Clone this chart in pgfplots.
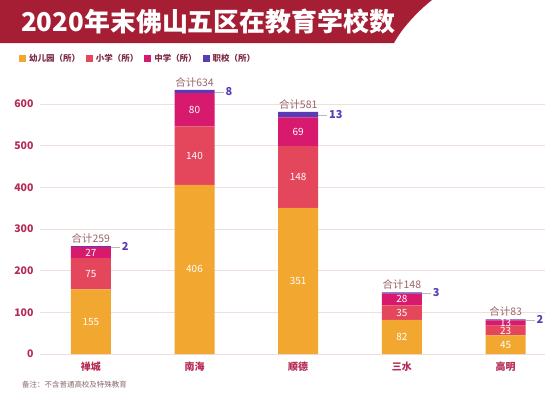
\documentclass[border=0pt]{standalone}
\usepackage{pgfplots}
\pgfplotsset{compat=1.18}
\usepackage{fontspec}
\setmainfont{Noto Sans CJK SC}
\definecolor{banner}{HTML}{A61E34}
\definecolor{cA}{HTML}{F2A830}
\definecolor{cB}{HTML}{E4465C}
\definecolor{cC}{HTML}{D81A6E}
\definecolor{cD}{HTML}{5B3BB5}
\definecolor{tickc}{HTML}{B52A55}
\definecolor{gridc}{HTML}{F0DEDF}
\definecolor{sumc}{HTML}{9A6468}
\definecolor{legc}{HTML}{7E2B45}
\definecolor{notec}{HTML}{8A6A6A}
\pgfplotsset{
  common/.style={
    at={(40bp,42bp)}, anchor=south west,
    scale only axis, width=505bp, height=275bp,
    xmin=-0.49, xmax=4.38, ymin=0, ymax=660,
  }
}
\begin{document}
\begin{tikzpicture}[x=1bp,y=1bp]
\path[use as bounding box, fill=white] (0,0) rectangle (554,396);
\fill[banner] (0,396) -- (432,396) .. controls (418,385) and (402,368) .. (394,353) -- (0,353) -- cycle;
\node[anchor=west, text=white, font=\bfseries\fontsize{26}{30}\selectfont, inner sep=0] at (21,374) {2020年末佛山五区在教育学校数};
\node[anchor=west, text=notec, font=\fontsize{7.5}{9}\selectfont, inner sep=0] at (22,11) {备注：不含普通高校及特殊教育};
\begin{axis}[common,
  ybar stacked, bar width=40bp,
  axis line style={draw=none},
  major tick length=0pt,
  ymajorgrids, grid style={gridc, line width=0.6pt},
  ytick={0,100,...,600},
  xtick={0,1,2,3,4},
  xticklabels={禅城,南海,顺德,三水,高明},
  /pgf/number format/assume math mode=true,
  yticklabel style={text=tickc, font=\bfseries\fontsize{10.5}{12}\selectfont, xshift=-3bp},
  xticklabel style={text=tickc, font=\bfseries\fontsize{10}{12}\selectfont, yshift=-4bp},
  legend style={at={(-0.0475,1.076)}, anchor=west, draw=none, fill=none,
    legend columns=-1, font=\bfseries\fontsize{8.5}{10}\selectfont, text=legc,
    /tikz/every even column/.append style={column sep=4bp},
    /tikz/every odd column/.append style={column sep=1bp}},
  legend image code/.code={\fill[#1] (0bp,-3.5bp) rectangle (7bp,3.5bp);},
]
\addplot[fill=cA, draw=none] coordinates {(0,155) (1,406) (2,351) (3,82) (4,45)};
\addlegendentry{幼儿园（所）}
\addplot[fill=cB, draw=none] coordinates {(0,75) (1,140) (2,148) (3,35) (4,23)};
\addlegendentry{小学（所）}
\addplot[fill=cC, draw=none] coordinates {(0,27) (1,80) (2,69) (3,28) (4,13)};
\addlegendentry{中学（所）}
\addplot[fill=cD, draw=none] coordinates {(0,2) (1,8) (2,13) (3,3) (4,2)};
\addlegendentry{职校（所）}
\end{axis}
% labels: segment midpoints and totals
\begin{axis}[common, hide axis, point meta=explicit symbolic]
\addplot[draw=none, mark=none, nodes near coords,
  every node near coord/.append style={anchor=center, text=white, font=\fontsize{10}{12}\selectfont}]
  coordinates {(0,77.5)[155] (1,203)[406] (2,175.5)[351] (3,41)[82] (4,22.5)[45]
               (0,192.5)[75] (1,476)[140] (2,425)[148] (3,99.5)[35] (4,56.5)[23]
               (0,243.5)[27] (1,586)[80] (2,533.5)[69] (3,131)[28] (4,74.5)[13]};
\addplot[draw=none, mark=none, nodes near coords={\textcolor{gray!55}{\rule[0.5ex]{9bp}{0.7pt}}\,\pgfplotspointmeta},
  every node near coord/.append style={anchor=west, text=cD, inner sep=0pt,
    font=\bfseries\fontsize{11}{12}\selectfont, xshift=20bp}]
  coordinates {(0,258)[2] (1,630)[8] (2,574.5)[13] (3,146.5)[3] (4,82)[2]};
\addplot[draw=none, mark=none, nodes near coords={合计\pgfplotspointmeta},
  every node near coord/.append style={anchor=south, text=sumc, inner sep=1.5bp,
    font=\fontsize{10.5}{12}\selectfont, yshift=1bp}]
  coordinates {(0,259)[259] (1,634)[634] (2,581)[581] (3,148)[148] (4,83)[83]};
\end{axis}
\end{tikzpicture}
\end{document}
